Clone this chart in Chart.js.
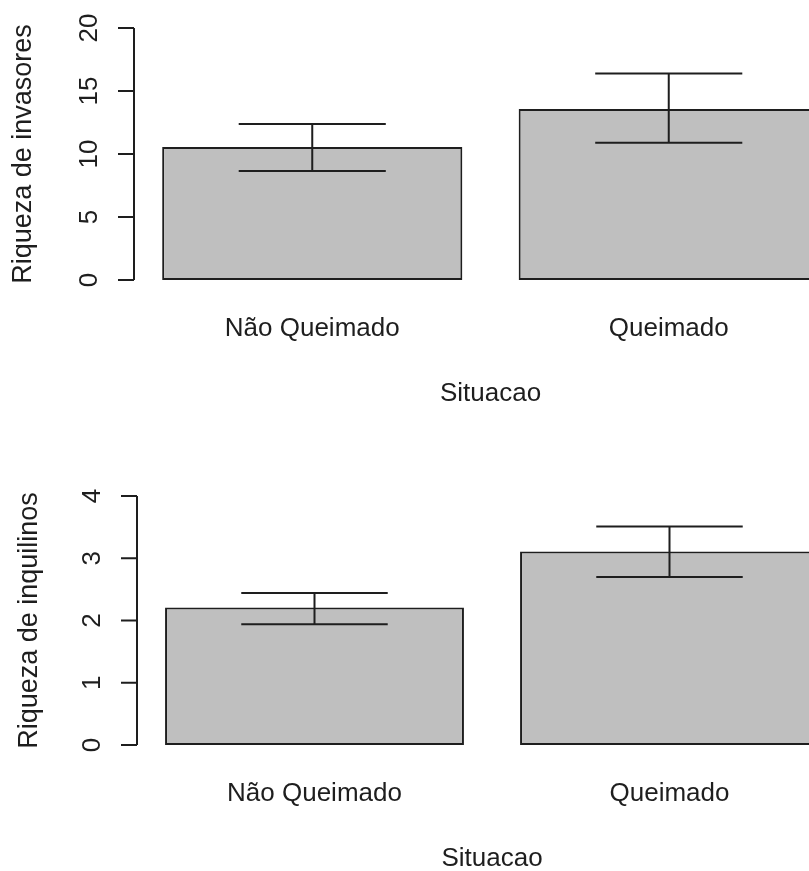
<!DOCTYPE html>
<html>
<head>
<meta charset="utf-8">
<script src="https://cdn.jsdelivr.net/npm/chart.js@4"></script>
<style>
  html, body { margin: 0; padding: 0; background: #fff; overflow: hidden; width: 809px; height: 871px; }
  canvas { position: absolute; left: 0; }
  #topChart { top: 0; }
  #bottomChart { top: 465px; }
</style>
</head>
<body>
<canvas id="topChart" width="860" height="450"></canvas>
<canvas id="bottomChart" width="860" height="450"></canvas>
<script>
const categories = ['Não Queimado', 'Queimado'];
const xTitle = 'Situacao';

// riqueza de invasores
const invasoresMean = [10.56, 13.57];
const invasoresLow = [8.65, 10.9];
const invasoresHigh = [12.38, 16.4];
const invasoresTicks = [0, 5, 10, 15, 20];

// riqueza de inquilinos
const inquilinosMean = [2.21, 3.11];
const inquilinosLow = [1.94, 2.70];
const inquilinosHigh = [2.44, 3.51];
const inquilinosTicks = [0, 1, 2, 3, 4];

const ink = '#1e1e1e';
const font = { family: '"Liberation Sans", Arial, sans-serif', size: 26 };
const titleFont = { family: '"Liberation Sans", Arial, sans-serif', size: 27 };

Chart.defaults.animation = false;
Chart.defaults.color = ink;

// y axis like R: line from first to last tick, ticks pointing out, labels turned
const rAxis = {
  id: 'rAxis',
  afterDraw(chart) {
    const y = chart.scales.y;
    const x0 = chart.chartArea.left;
    const vals = y.ticks.map(t => t.value);
    const c = chart.ctx;
    c.save();
    c.strokeStyle = ink;
    c.lineWidth = 2;
    c.beginPath();
    c.moveTo(x0, y.getPixelForValue(vals[0]));
    c.lineTo(x0, y.getPixelForValue(vals[vals.length - 1]));
    vals.forEach(v => {
      const p = y.getPixelForValue(v);
      c.moveTo(x0, p);
      c.lineTo(x0 - 16, p);
    });
    c.stroke();
    c.fillStyle = ink;
    c.font = font.size + 'px ' + font.family;
    c.textAlign = 'center';
    c.textBaseline = 'alphabetic';
    vals.forEach(v => {
      c.save();
      c.translate(x0 - 37, y.getPixelForValue(v));
      c.rotate(-Math.PI / 2);
      c.fillText(String(v), 0, 0);
      c.restore();
    });
    c.restore();
  }
};

function errorBars(low, high) {
  return {
    id: 'errorBars',
    afterDatasetsDraw(chart) {
      const y = chart.scales.y;
      const c = chart.ctx;
      c.save();
      c.strokeStyle = ink;
      c.lineWidth = 2;
      chart.getDatasetMeta(0).data.forEach((bar, i) => {
        const lo = y.getPixelForValue(low[i]);
        const hi = y.getPixelForValue(high[i]);
        const half = bar.width * 0.245;
        c.beginPath();
        c.moveTo(bar.x, lo); c.lineTo(bar.x, hi);
        c.moveTo(bar.x - half, lo); c.lineTo(bar.x + half, lo);
        c.moveTo(bar.x - half, hi); c.lineTo(bar.x + half, hi);
        c.stroke();
      });
      c.restore();
    }
  };
}

function makePanel(id, mean, low, high, ticks, yTitle, left, top, titlePad) {
  const span = ticks[ticks.length - 1] - ticks[0];
  new Chart(document.getElementById(id), {
    type: 'bar',
    data: {
      labels: categories,
      datasets: [{
        data: mean,
        backgroundColor: '#bfbfbf',
        borderColor: ink,
        borderWidth: 2,
        borderSkipped: false,
        barPercentage: 1,
        categoryPercentage: 0.842
      }]
    },
    options: {
      responsive: false,
      layout: { padding: { top: top, right: 13, bottom: 0, left: 0 } },
      plugins: { legend: { display: false }, tooltip: { enabled: false } },
      scales: {
        x: {
          offset: true,
          grid: { display: false, drawTicks: false },
          border: { display: false },
          ticks: { font: font, color: ink, padding: 23, maxRotation: 0 },
          title: { display: true, text: xTitle, font: font, color: ink, padding: { top: 0, bottom: 41 } },
          afterFit: s => { s.height = 160; }
        },
        y: {
          min: ticks[0] - 0.04 * span,
          max: ticks[ticks.length - 1] + 0.04 * span,
          grid: { display: false },
          border: { display: false },
          ticks: { display: false },
          afterBuildTicks: s => { s.ticks = ticks.map(v => ({ value: v })); },
          afterFit: s => { s.width = left; },
          title: { display: true, text: yTitle, font: titleFont, color: ink, padding: { top: titlePad, bottom: 0 } }
        }
      }
    },
    plugins: [rAxis, errorBars(low, high)]
  });
}

makePanel('topChart', invasoresMean, invasoresLow, invasoresHigh, invasoresTicks,
  'Riqueza de invasores', 134, 18, 7);
makePanel('bottomChart', inquilinosMean, inquilinosLow, inquilinosHigh, inquilinosTicks,
  'Riqueza de inquilinos', 137, 21, 13);
</script>
</body>
</html>
